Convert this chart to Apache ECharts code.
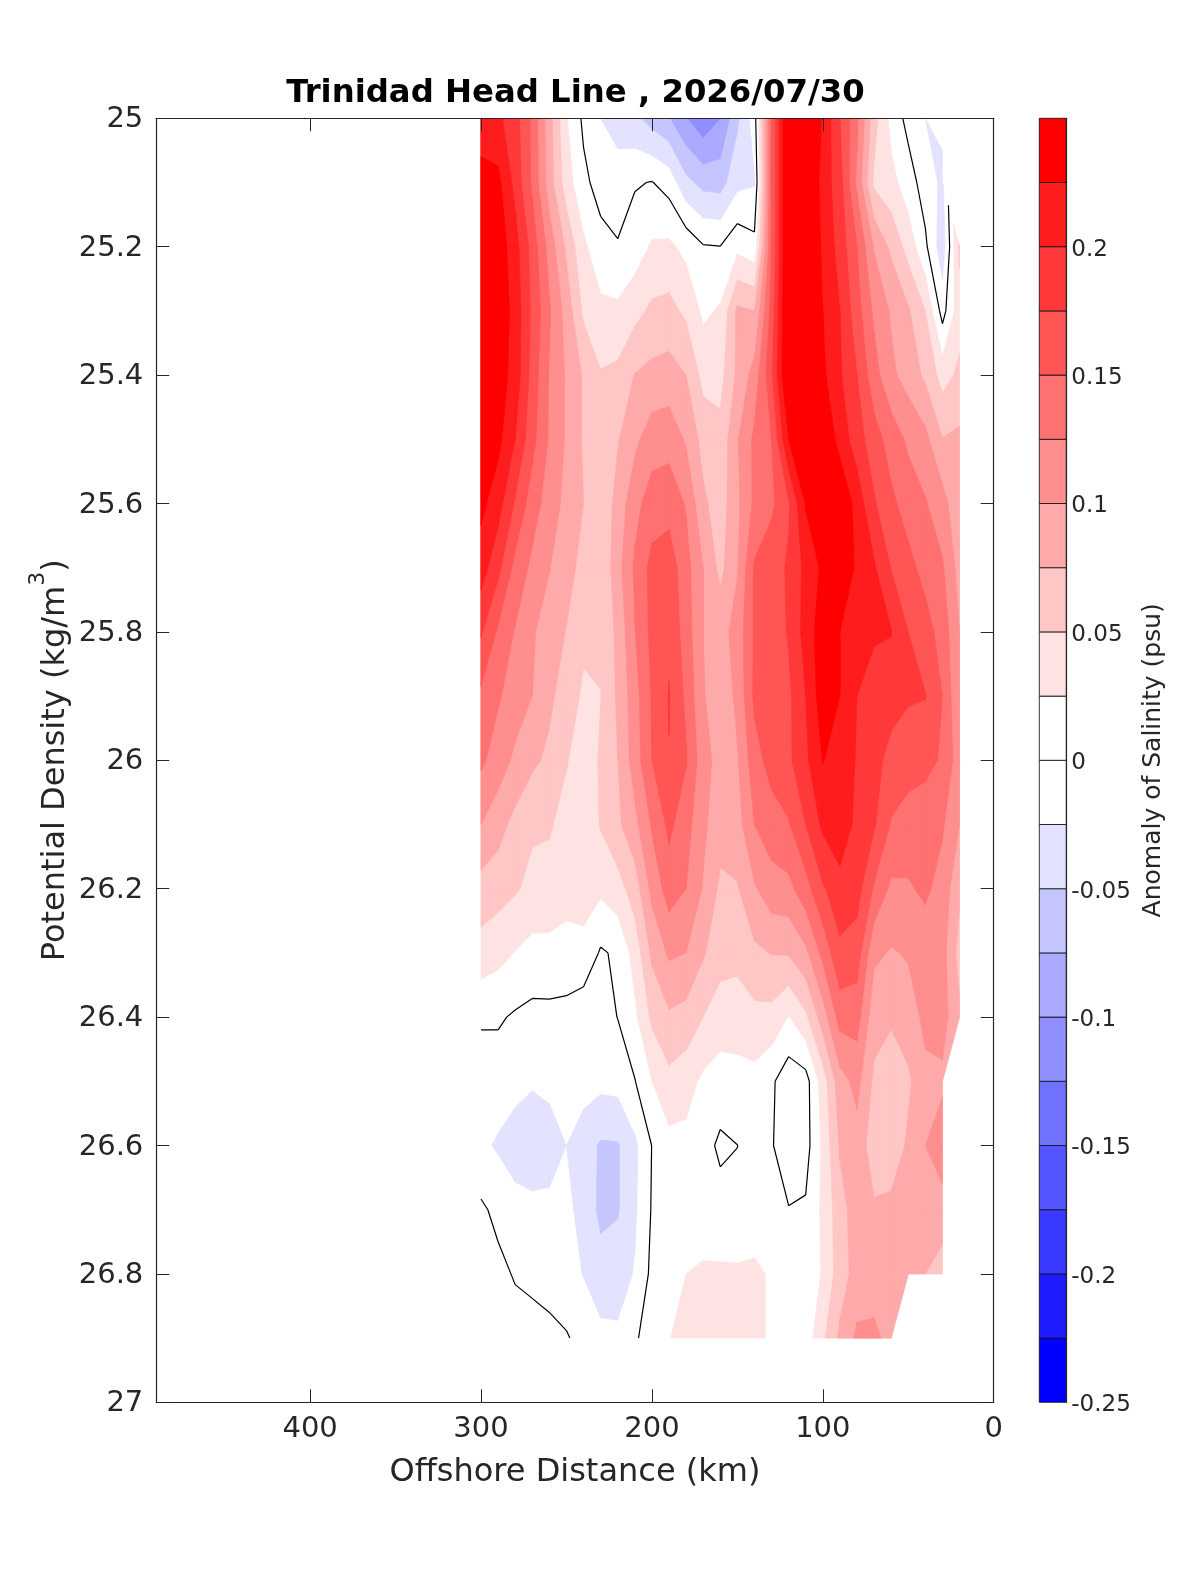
<!DOCTYPE html>
<html><head><meta charset="utf-8">
<style>html,body{margin:0;padding:0;background:#fff}#c{width:1200px;height:1575px}</style>
<script src="https://cdn.jsdelivr.net/npm/echarts@6/dist/echarts.min.js"></script>
</head><body><div id="c"></div>
<script>
const _ = null; // no data at this grid node
const DISTANCES = [300,290,280,270,260,250,240,230,220,210,200,190,180,170,160,150,140,130,120,110,100,90,80,70,60,50,40,30,20];
const DENSITIES = [25.0,25.1,25.2,25.3,25.4,25.5,25.6,25.7,25.8,25.9,26.0,26.1,26.2,26.3,26.4,26.5,26.6,26.7,26.8,26.9];
const row250 = [.21,.205,.185,.145,.085,.027,-.005,-.025,-.035,-.045,-.06,-.073,-.098,-.118,-.1,-.055,-.012,.15,.26,.26,.222,.175,.13,.06,.017,-.008,-.025,-.02,_];
const row251 = [.235,.232,.192,.145,.087,.037,.006,-.01,-.014,-.002,.001,-.01,-.043,-.058,-.06,-.032,-.027,.15,.26,.26,.215,.185,.12,.045,.033,.012,-.012,-.03,_];
const row252 = [.24,.24,.21,.165,.115,.07,.03,.009,.002,.012,.028,.03,.018,.002,.0005,.018,.008,.15,.26,.26,.22,.19,.15,.098,.07,.04,.005,-.04,.055];
const row253 = [.245,.245,.215,.17,.128,.09,.045,.031,.03,.042,.055,.058,.045,.02,.028,.08,.075,.16,.26,.26,.225,.2,.16,.12,.097,.078,.05,-.01,.04];
const row254 = [.245,.238,.215,.165,.123,.097,.072,.052,.056,.076,.082,.085,.075,.042,.042,.08,.11,.17,.26,.26,.23,.203,.175,.135,.105,.09,.07,.04,.055];
const row255 = [.242,.232,.2,.158,.122,.097,.072,.06,.073,.094,.113,.116,.097,.066,.057,.098,.13,.15,.225,.26,.25,.215,.187,.16,.14,.12,.107,.076,.08];
const row256 = [.232,.21,.172,.137,.113,.093,.075,.056,.084,.117,.137,.14,.123,.08,.062,.095,.13,.145,.172,.227,.25,.25,.215,.178,.155,.14,.127,.11,.08];
const row257 = [.212,.182,.142,.119,.101,.084,.067,.052,.091,.129,.158,.165,.134,.1,.068,.098,.153,.165,.178,.207,.23,.24,.222,.203,.174,.157,.142,.128,.09];
const row258 = [.178,.146,.123,.103,.088,.074,.055,.054,.081,.124,.157,.17,.138,.1,.09,.11,.153,.163,.177,.21,.24,.225,.215,.203,.201,.175,.16,.14,.1];
const row259 = [.145,.128,.113,.1,.08,.063,.046,.0495,.079,.115,.152,.1765,.145,.102,.085,.105,.155,.16,.17,.2,.24,.225,.2,.19,.187,.178,.176,.15,.1];
const row260 = [.13,.113,.095,.08,.07,.052,.035,.053,.075,.112,.15,.174,.152,.11,.09,.098,.14,.16,.17,.195,.226,.215,.198,.185,.165,.16,.155,.148,.11];
const row261 = [.1,.085,.067,.054,.053,.04,.03,.052,.07,.093,.128,.156,.135,.105,.085,.09,.125,.138,.148,.175,.205,.22,.192,.178,.148,.14,.14,.128,.1];
const row262 = [.065,.06,.053,.043,.04,.03,.032,.03,.04,.062,.107,.137,.125,.098,.07,.073,.097,.115,.118,.14,.172,.189,.185,.147,.12,.122,.13,.115,.08];
const row263 = [.04,.033,.024,.017,.018,.02,.02,-.003,.004,.035,.08,.104,.1,.078,.058,.058,.07,.076,.077,.095,.132,.17,.163,.105,.098,.102,.11,.11,.065];
const row264 = [.003,.003,-.003,-.007,-.007,-.01,-.018,-.01,.0005,.02,.055,.071,.066,.05,.04,.036,.043,.042,.024,.045,.088,.135,.135,.085,.078,.09,.105,.11,.08];
const row265 = [-.012,-.012,-.017,-.022,-.018,-.012,-.015,-.018,-.016,-.001,.025,.043,.035,.02,.012,.017,.017,.004,-.015,-.01,.037,.09,.108,.07,.062,.07,.095,.095,_];
const row266 = [-.02,-.028,-.037,-.042,-.038,-.025,-.038,-.053,-.052,-.03,.0005,.017,.018,.008,-.004,-.0002,.01,.002,-.015,-.01,.03,.078,.09,.062,.056,.08,.1,.115,_];
const row267 = [.004,-.006,-.016,-.018,-.018,-.02,-.032,-.056,-.052,-.029,.002,.008,.012,.006,.008,.005,.01,.004,.001,.003,.03,.065,.088,.078,.083,.085,.085,.09,_];
const row268 = [.007,.006,-.002,-.008,-.012,-.015,-.026,-.04,-.038,-.023,.006,.015,.025,.03,.029,.029,.03,.022,.012,.005,.028,.063,.085,.085,.082,.085,.075,.062,_];
const row269 = [.013,.012,.01,.013,.008,.002,-.008,-.018,-.02,-.005,.018,.024,.035,.033,.033,.03,.03,.022,.012,.011,.045,.08,.105,.107,.09,_,_,_,_];
const ANOMALY = [row250,row251,row252,row253,row254,row255,row256,row257,row258,row259,row260,row261,row262,row263,row264,row265,row266,row267,row268,row269];

// colour bar: level edges and the colour of each interval, bottom to top
const LEVEL_EDGES = [-.25,-.225,-.2,-.175,-.15,-.125,-.1,-.075,-.05,-.025,0,.025,.05,.075,.1,.125,.15,.175,.2,.225,.25];
const LEVEL_COLORS = ['#0000ff','#1c1cff','#3939ff','#5555ff','#7171ff','#8e8eff','#aaaaff','#c6c6ff','#e3e3ff','#ffffff',
                      '#ffffff','#ffe3e3','#ffc6c6','#ffaaaa','#ff8e8e','#ff7171','#ff5555','#ff3939','#ff1c1c','#ff0000'];
const COLORBAR_TICKS = [-.25,-.2,-.15,-.1,-.05,0,.05,.1,.15,.2];
const DENSITY_TICKS = [25,25.2,25.4,25.6,25.8,26,26.2,26.4,26.6,26.8,27];
const DISTANCE_TICKS = [0,100,200,300,400];

const TEXT = '#262626', FONT = 'DejaVu Sans';

// corners of one grid cell as [distance, density, value], skipping empty nodes
function cellCorners(i, j) {
  const c = [[i,j],[i+1,j],[i+1,j+1],[i,j+1]].map(([a,b]) => [DISTANCES[a], DENSITIES[b], ANOMALY[b][a]]);
  return c.filter(p => p[2] !== null);
}
// keep the part of a polygon where sign*(v-level) >= 0
function clip(poly, level, sign) {
  const out = [];
  for (let k = 0; k < poly.length; k++) {
    const a = poly[k], b = poly[(k+1) % poly.length];
    const da = sign*(a[2]-level), db = sign*(b[2]-level);
    if (da >= 0) out.push(a);
    if ((da >= 0) !== (db >= 0)) {
      const t = da/(da-db);
      out.push([a[0]+t*(b[0]-a[0]), a[1]+t*(b[1]-a[1]), level]);
    }
  }
  return out;
}
function regionPath(api, level, sign) {
  let d = '';
  for (let j = 0; j < DENSITIES.length-1; j++) for (let i = 0; i < DISTANCES.length-1; i++) {
    const c = cellCorners(i,j);
    if (c.length < 3) continue;
    const p = clip(c, level, sign);
    if (p.length < 3) continue;
    p.forEach((q,k) => { const s = api.coord([q[0],q[1]]); d += (k?'L':'M') + s[0].toFixed(2) + ' ' + s[1].toFixed(2); });
    d += 'Z';
  }
  return d;
}
function zeroLinePath(api) {
  let d = '';
  for (let j = 0; j < DENSITIES.length-1; j++) for (let i = 0; i < DISTANCES.length-1; i++) {
    const c = cellCorners(i,j);
    if (c.length < 3) continue;
    const pts = [];
    for (let k = 0; k < c.length; k++) {
      const a = c[k], b = c[(k+1)%c.length];
      if ((a[2] >= 0) !== (b[2] >= 0)) {
        const t = a[2]/(a[2]-b[2]);
        pts.push([a[0]+t*(b[0]-a[0]), a[1]+t*(b[1]-a[1])]);
      }
    }
    for (let k = 0; k+1 < pts.length; k += 2) {
      const s = api.coord(pts[k]), e = api.coord(pts[k+1]);
      d += 'M'+s[0].toFixed(2)+' '+s[1].toFixed(2)+'L'+e[0].toFixed(2)+' '+e[1].toFixed(2);
    }
  }
  return d;
}
// filled regions, painted outward from zero so each darker level covers the last
const fills = [];
for (let n = 11; n < LEVEL_COLORS.length; n++) fills.push({level: LEVEL_EDGES[n], sign: 1, color: LEVEL_COLORS[n]});
for (let n = 8; n >= 0; n--) fills.push({level: LEVEL_EDGES[n+1], sign: -1, color: LEVEL_COLORS[n]});

const gridBox = {left:156.3, top:118.3, width:837.4, height:1284};
const tickLine = {lineStyle:{color:TEXT,width:1}};
const axisCommon = {axisLine:{show:true,onZero:false,lineStyle:{color:TEXT,width:1.2}}, splitLine:{show:false}, z:10};

const chart = echarts.init(document.getElementById('c'), null, {renderer:'canvas'});
chart.setOption({
  animation:false, backgroundColor:'#fff',
  title:{text:'Trinidad Head Line , 2026/07/30', left:570.5, top:73, textAlign:'center',
    textStyle:{fontFamily:FONT,fontWeight:'bold',fontSize:32.3,color:'#000'}},
  grid:[gridBox, {left:1039.3, top:118.3, width:27, height:1284}],
  xAxis:[
    Object.assign({type:'value',gridIndex:0,position:'bottom',inverse:true,min:0,max:490,interval:100,
      axisTick:{show:true,inside:true,length:13,customValues:DISTANCE_TICKS,...tickLine},
      axisLabel:{fontFamily:FONT,fontSize:29,color:TEXT,margin:13,customValues:DISTANCE_TICKS,formatter:v=>String(v)},
      name:'Offshore Distance (km)',nameLocation:'middle',nameGap:54,
      nameTextStyle:{fontFamily:FONT,fontSize:32,color:TEXT}},axisCommon),
    Object.assign({type:'value',gridIndex:0,position:'top',inverse:true,min:0,max:490,interval:100,
      axisTick:{show:true,inside:true,length:13,customValues:DISTANCE_TICKS,...tickLine},
      axisLabel:{show:false}},axisCommon),
    {type:'value',gridIndex:1,min:0,max:1,show:false}
  ],
  yAxis:[
    Object.assign({type:'value',gridIndex:0,position:'left',inverse:true,min:25,max:27,interval:.2,
      axisTick:{show:true,inside:true,length:13,customValues:DENSITY_TICKS,...tickLine},
      axisLabel:{margin:13,customValues:DENSITY_TICKS,formatter:v=>'{t|'+(+v.toFixed(1))+'}',
        rich:{t:{fontFamily:FONT,fontSize:29,color:TEXT,padding:[3,0,0,0]}}},
      name:'{a|Potential Density (kg/m}{s|3}{a|)}',nameLocation:'middle',nameGap:85,nameMoveOverlap:false,
      nameTextStyle:{rich:{a:{fontFamily:FONT,fontSize:32,color:TEXT,lineHeight:44,verticalAlign:'bottom'},s:{fontFamily:FONT,fontSize:22,color:TEXT,verticalAlign:'top',lineHeight:24}}}},axisCommon),
    Object.assign({type:'value',gridIndex:0,position:'right',inverse:true,min:25,max:27,interval:.2,
      axisTick:{show:true,inside:true,length:13,customValues:DENSITY_TICKS,...tickLine},
      axisLabel:{show:false}},axisCommon),
    Object.assign({type:'value',gridIndex:1,position:'right',min:-.25,max:.25,interval:.05,
      axisTick:{show:false},
      axisLabel:{margin:5,customValues:COLORBAR_TICKS,formatter:v=>'{t|'+(+v.toFixed(2))+'}',
        rich:{t:{fontFamily:FONT,fontSize:23,color:TEXT,padding:[6,0,0,0]}}},
      name:'Anomaly of Salinity (psu)',nameLocation:'middle',nameGap:75,nameRotate:90,
      nameTextStyle:{fontFamily:FONT,fontSize:25,color:TEXT}},axisCommon)
  ],
  series:[
    {type:'custom',xAxisIndex:0,yAxisIndex:0,clip:true,silent:true,z:2,
     data:fills.map(()=>[300,26]),
     renderItem(params,api){
       const f = fills[params.dataIndex];
       return {type:'path',shape:{pathData:regionPath(api,f.level,f.sign)},
         style:{fill:f.color,stroke:f.color,lineWidth:.6}};
     }},
    {type:'custom',xAxisIndex:0,yAxisIndex:0,clip:true,silent:true,z:3,
     data:[[300,26]],
     renderItem(params,api){
       return {type:'path',shape:{pathData:zeroLinePath(api)},
         style:{fill:null,stroke:'#000',lineWidth:1.2}};
     }},
    {type:'custom',xAxisIndex:2,yAxisIndex:2,silent:true,z:2,
     data:LEVEL_COLORS.map((c,i)=>[0,LEVEL_EDGES[i],LEVEL_EDGES[i+1]]),
     encode:{x:0,y:[1,2]},
     renderItem(params,api){
       const a = api.coord([0,api.value(1)]), b = api.coord([1,api.value(2)]);
       return {type:'rect',shape:{x:a[0],y:b[1],width:b[0]-a[0],height:a[1]-b[1]},
         style:{fill:LEVEL_COLORS[params.dataIndex],stroke:'rgba(20,20,20,.85)',lineWidth:1}};
     }}
  ]
});
</script></body></html>
